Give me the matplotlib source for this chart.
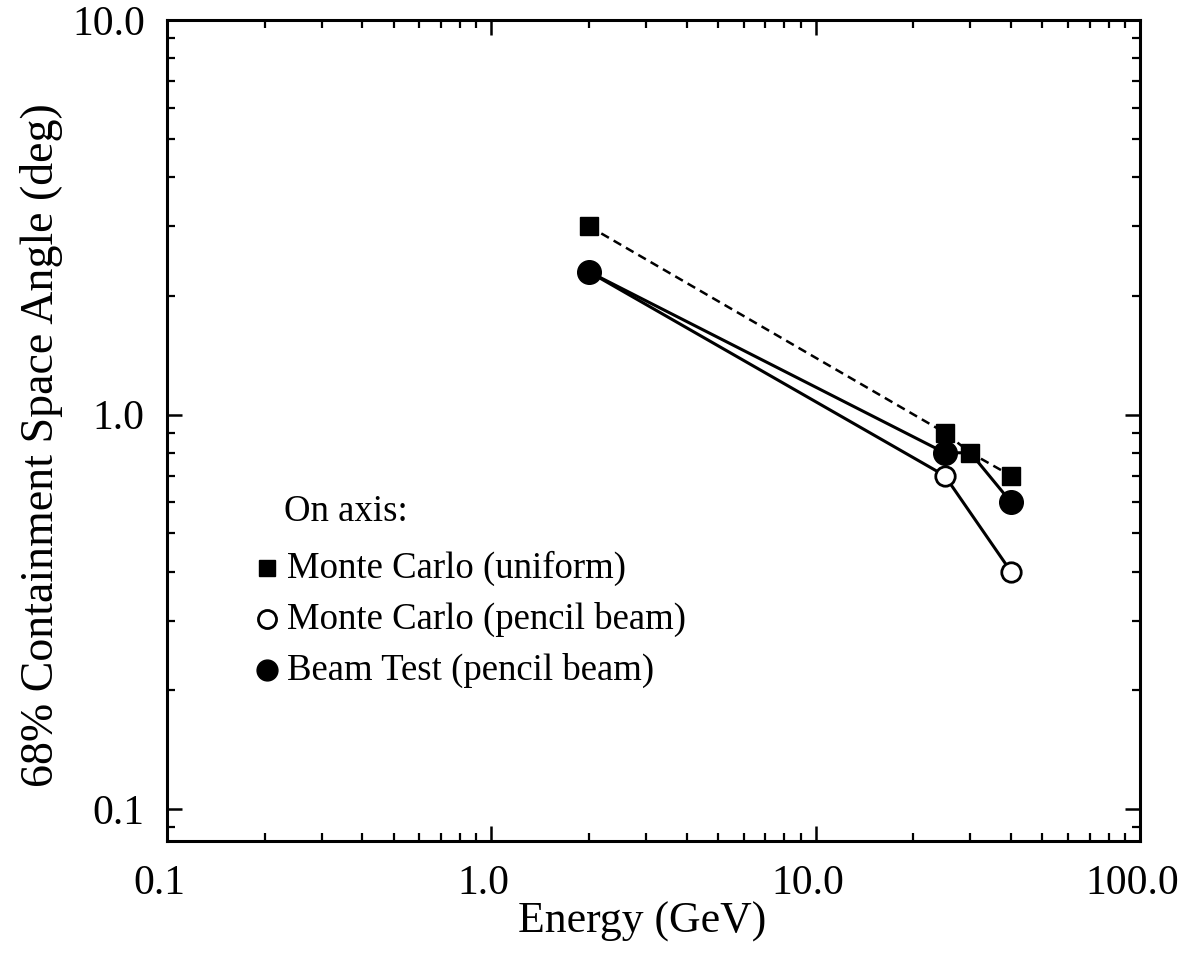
import numpy as np
import matplotlib
matplotlib.use('Agg')
import matplotlib.pyplot as plt
import matplotlib.transforms as mtransforms
from matplotlib.ticker import FixedLocator, FixedFormatter, LogLocator, NullFormatter

plt.rcParams['font.family'] = ['Liberation Serif', 'DejaVu Serif']

# ---------------------------------------------------------------------------- #
# data
# Monte Carlo, uniform illumination (filled squares, dashed line)
e_unif = [2.0, 25.0, 30.0, 40.0]
a_unif = [3.0, 0.9, 0.8, 0.7]

# Monte Carlo, pencil beam (open circles)
e_pencil = [2.0, 25.0, 40.0]
a_pencil = [2.3, 0.7, 0.4]

# Beam test, pencil beam (filled circles); the line also runs through 30 GeV
e_beam = [2.0, 25.0, 30.0, 40.0]
a_beam = [2.3, 0.8, 0.8, 0.6]

xticks = [0.1, 1.0, 10.0, 100.0]
xticklabels = ['0.1', '1.0', '10.0', '100.0']
yticks = [0.1, 1.0, 10.0]
yticklabels = ['0.1', '1.0', '10.0']

legend_title = 'On axis:'
legend_labels = ['Monte Carlo (uniform)', 'Monte Carlo (pencil beam)', 'Beam Test (pencil beam)']

# ---------------------------------------------------------------------------- #
W, H = 1181, 966
fig = plt.figure(figsize=(W/100, H/100), dpi=100)
ax = fig.add_axes([167/W, 1-841/H, (1140-167)/W, (841-20)/H])

ax.set_xscale('log')
ax.set_yscale('log')
ax.set_xlim(0.1, 100)
ax.set_ylim(0.083, 10)

lw = 2.2
ax.plot(e_pencil, a_pencil, '-', color='k', lw=lw, marker='o', ms=14,
        mfc='white', mec='k', mew=2.0, zorder=3)
ax.plot(e_beam, a_beam, '-', color='k', lw=lw, marker='o', ms=17,
        mfc='k', mec='k', markevery=[0, 1, 3], zorder=4)
ax.plot(e_unif, a_unif, '--', color='k', lw=1.8, dashes=(3.5, 2.2),
        marker='s', ms=13, mfc='k', mec='k', zorder=5)

ax.xaxis.set_major_locator(FixedLocator(xticks))
ax.xaxis.set_major_formatter(FixedFormatter(xticklabels))
ax.yaxis.set_major_locator(FixedLocator(yticks))
ax.yaxis.set_major_formatter(FixedFormatter(yticklabels))
ax.xaxis.set_minor_locator(LogLocator(base=10, subs=np.arange(2, 10), numticks=20))
ax.yaxis.set_minor_locator(LogLocator(base=10, subs=np.arange(2, 10), numticks=20))
ax.xaxis.set_minor_formatter(NullFormatter())
ax.yaxis.set_minor_formatter(NullFormatter())

ax.tick_params(which='both', direction='in', top=True, right=True)
ax.tick_params(which='major', length=11, width=1.8, labelsize=30)
ax.tick_params(which='minor', length=6, width=1.6)
ax.tick_params(axis='x', which='major', pad=17)
ax.tick_params(axis='y', which='major', pad=16)
for s in ax.spines.values():
    s.set_linewidth(2.2)

# the x tick labels sit a little left of their ticks in the original
shift = mtransforms.ScaledTranslation(-8/100, 0, fig.dpi_scale_trans)
for lab in ax.get_xticklabels():
    lab.set_transform(lab.get_transform() + shift)

fig.text(642/W, 1-922/H, 'Energy (GeV)', fontsize=31.5, ha='center', va='center')
fig.text(42/W, 1-445/H, '68% Containment Space Angle (deg)', fontsize=33,
         ha='center', va='center', rotation=90)

# legend, drawn by hand to sit where the original has it
fs_leg = 26.5
fig.text(284/W, 1-512/H, legend_title, fontsize=fs_leg, ha='left', va='center')
rows = [568, 619, 670]
styles = [dict(marker='s', ms=11, mfc='k', mec='k'),
          dict(marker='o', ms=13, mfc='white', mec='k', mew=2.0),
          dict(marker='o', ms=15, mfc='k', mec='k')]
for r, lab, st in zip(rows, legend_labels, styles):
    fig.add_artist(plt.Line2D([267/W], [1-r/H], linestyle='none',
                              transform=fig.transFigure, **st))
    fig.text(287/W, 1-r/H, lab, fontsize=fs_leg, ha='left', va='center')

fig.savefig('out.png', dpi=100)
